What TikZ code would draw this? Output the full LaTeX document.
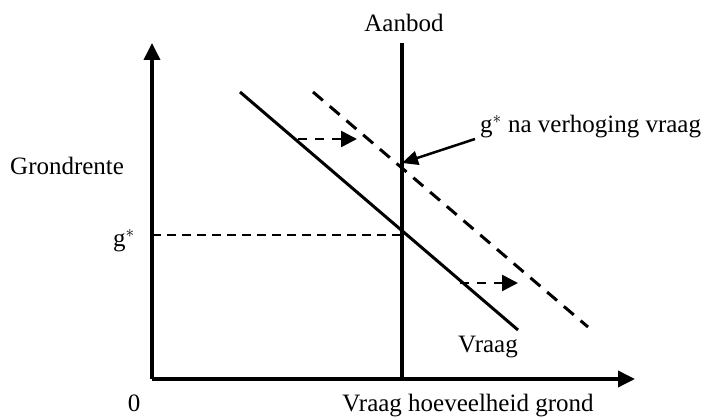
\documentclass[tikz,border=0pt]{standalone}
\usepackage{fontspec}
\setmainfont{Liberation Serif}
\usetikzlibrary{arrows.meta}
\tikzset{
  axisline/.style={line width=3.6pt,-{Triangle[length=17pt,width=16pt]}},
  supplyline/.style={line width=3.3pt},
  demandline/.style={line width=3pt},
  newdemand/.style={line width=3pt,dash pattern=on 13pt off 9pt},
  levelline/.style={line width=2.5pt,dash pattern=on 9pt off 6pt},
  shiftarrow/.style={line width=2.5pt,dash pattern=on 9pt off 8pt,-{Triangle[length=16pt,width=16pt]}},
  pointer/.style={line width=2.5pt,-{Triangle[length=16pt,width=14pt]}}
}
\begin{document}
\begin{tikzpicture}[x=1pt,y=1pt,font=\fontsize{25}{30}\selectfont]
\path[use as bounding box] (0,0) rectangle (710,419);
% assen
\coordinate (O) at (152,40);
\coordinate (ytop) at (152,376);
\coordinate (xend) at (635,40);
\draw[axisline] (O) -- (ytop);
\draw[axisline] (O) -- (xend);
% aanbod
\coordinate (sbot) at (402,40);
\coordinate (stop) at (402,376);
\draw[supplyline] (sbot) -- (stop);
% vraag, oud en nieuw
\coordinate (d1) at (240,327);
\coordinate (d2) at (518,89);
\coordinate (e1) at (313,327);
\coordinate (e2) at (588,92);
\draw[demandline] (d1) -- (d2);
\draw[newdemand] (e1) -- (e2);
% evenwicht
\coordinate (gl) at (152,184);
\coordinate (gs) at (402,184);
\draw[levelline] (gl) -- (gs);
% verschuiving
\coordinate (a1) at (298,280);
\coordinate (a2) at (357,280);
\coordinate (b1) at (460,136);
\coordinate (b2) at (518,136);
\draw[shiftarrow] (a1) -- (a2);
\draw[shiftarrow] (b1) -- (b2);
% labels
\node[anchor=base] (aanbod) at (404,387) {Aanbod};
\node[anchor=base west,inner sep=0pt] (gnew) at (480,286) {g$^{*}$ na verhoging vraag};
\coordinate (gtip) at (402,256);
\coordinate (gfrom) at (475,280);
\draw[pointer] (gfrom) -- (gtip);
\node[anchor=base west,inner sep=0pt] (rente) at (10,244) {Grondrente};
\node[anchor=base west,inner sep=0pt] (gster) at (113,172) {g$^{*}$};
\node[anchor=base east,inner sep=0pt] (vraag) at (518,66) {Vraag};
\node[anchor=base] (nul) at (134,7) {0};
\node[anchor=base] (hoev) at (468,7) {Vraag hoeveelheid grond};
\end{tikzpicture}
\end{document}
